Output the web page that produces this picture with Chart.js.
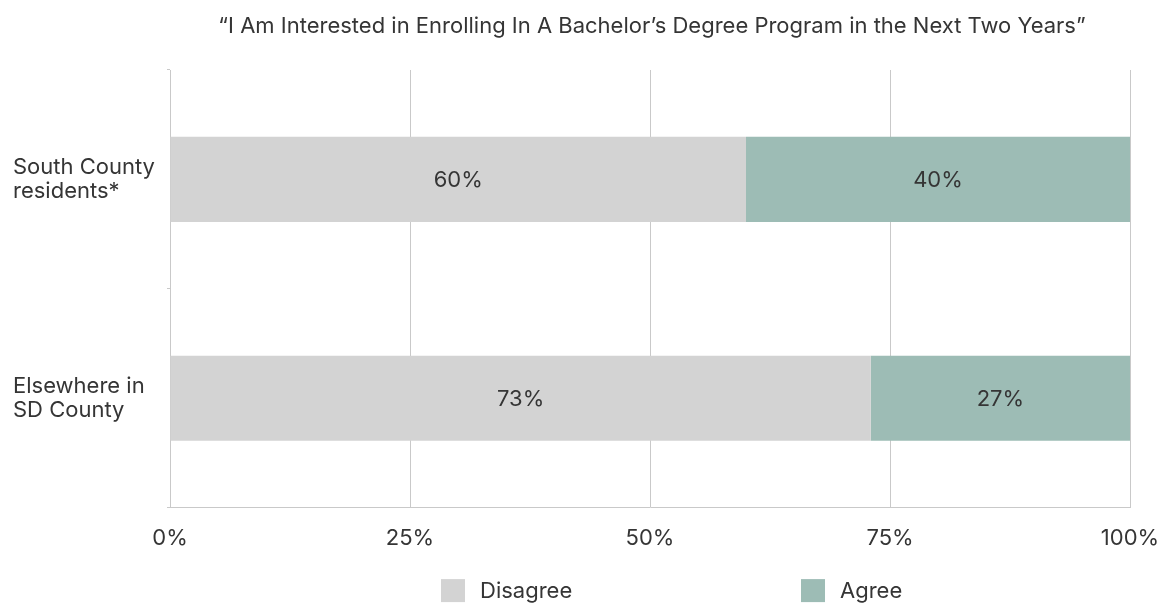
<!DOCTYPE html>
<html>
<head>
<meta charset="utf-8">
<script src="https://cdn.jsdelivr.net/npm/chart.js@4.4.1/dist/chart.umd.min.js"></script>
<style>
  html, body { margin: 0; padding: 0; background: #ffffff; }
  canvas { display: block; }
</style>
</head>
<body>
<canvas id="chart" width="1161" height="606"></canvas>
<script>
// Survey question shown as the chart heading
const titleText = '\u201CI Am Interested in Enrolling In A Bachelor\u2019s Degree Program in the Next Two Years\u201D';

// Respondent groups (two-line labels)
const categories = [['South County', 'residents*'], ['Elsewhere in', 'SD County']];

// Share of respondents per answer, in percent
const disagreeValues = [60, 73];
const agreeValues = [40, 27];

// Answer names and their colours
const seriesNames = ['Disagree', 'Agree'];
const seriesColors = ['#d3d3d3', '#9dbcb5'];

// Percentage axis
const xTickValues = [0, 25, 50, 75, 100];

const FONT = 'Inter, "DejaVu Sans", sans-serif';
const TEXT_COLOR = '#353535';
const GRID_COLOR = '#c9c9c9';

// Heading centred over the plot area
const centeredTitle = {
  id: 'centeredTitle',
  afterDraw(chart) {
    const ctx = chart.ctx;
    const area = chart.chartArea;
    ctx.save();
    ctx.font = '400 22px ' + FONT;
    ctx.fillStyle = TEXT_COLOR;
    ctx.textAlign = 'center';
    ctx.textBaseline = 'alphabetic';
    ctx.fillText(titleText, (area.left + area.right) / 2 + 2, 33);
    ctx.restore();
  }
};

// Writes each segment's value in the middle of its bar
const valueLabels = {
  id: 'valueLabels',
  afterDatasetsDraw(chart) {
    const ctx = chart.ctx;
    ctx.save();
    ctx.font = '400 22px ' + FONT;
    ctx.fillStyle = TEXT_COLOR;
    ctx.textAlign = 'center';
    ctx.textBaseline = 'middle';
    chart.data.datasets.forEach((ds, di) => {
      const meta = chart.getDatasetMeta(di);
      meta.data.forEach((bar, i) => {
        const cx = (bar.x + bar.base) / 2;
        ctx.fillText(ds.data[i] + '%', cx, bar.y + 1);
      });
    });
    ctx.restore();
  }
};

// Legend row under the axis, entries spread across the plot width
const spacedLegend = {
  id: 'spacedLegend',
  afterDraw(chart) {
    const ctx = chart.ctx;
    const area = chart.chartArea;
    const box = 24, boxGap = 15;
    const starts = [0.2823, 0.6573]; // box positions as a fraction of the plot width
    const y = area.bottom + 83.5;
    ctx.save();
    ctx.font = '400 22px ' + FONT;
    ctx.textBaseline = 'middle';
    ctx.textAlign = 'left';
    chart.data.datasets.forEach((ds, i) => {
      const x = area.left + starts[i] * (area.right - area.left);
      ctx.fillStyle = ds.backgroundColor;
      ctx.fillRect(x, y - box / 2, box, box - 1);
      ctx.fillStyle = TEXT_COLOR;
      ctx.fillText(ds.label, x + box + boxGap, y);
    });
    ctx.restore();
  }
};

const chart = new Chart(document.getElementById('chart'), {
  type: 'bar',
  data: {
    labels: categories,
    datasets: [
      {
        label: seriesNames[0],
        data: disagreeValues,
        backgroundColor: seriesColors[0],
        borderWidth: 0,
        categoryPercentage: 1,
        barPercentage: 0.389
      },
      {
        label: seriesNames[1],
        data: agreeValues,
        backgroundColor: seriesColors[1],
        borderWidth: 0,
        categoryPercentage: 1,
        barPercentage: 0.389
      }
    ]
  },
  options: {
    indexAxis: 'y',
    responsive: false,
    animation: false,
    layout: { padding: { left: 13, right: 31, top: 70, bottom: 36 } },
    plugins: {
      legend: { display: false },
      tooltip: { enabled: false },
      title: { display: false }
    },
    scales: {
      x: {
        stacked: true,
        min: 0,
        max: 100,
        afterBuildTicks(scale) {
          scale.ticks = xTickValues.map(v => ({ value: v }));
        },
        afterFit(scale) {
          scale.paddingLeft = 0;
          scale.paddingRight = 0;
        },
        border: { display: true, color: GRID_COLOR, width: 1 },
        grid: { color: GRID_COLOR, lineWidth: 1, drawTicks: false },
        ticks: {
          color: TEXT_COLOR,
          font: { family: FONT, size: 22, lineHeight: 1.2 },
          padding: 18,
          maxRotation: 0,
          callback: v => v + '%'
        }
      },
      y: {
        stacked: true,
        afterFit(scale) {
          scale.width = 157;
          scale.paddingTop = 0;
          scale.paddingBottom = 0;
        },
        border: { display: true, color: GRID_COLOR, width: 1 },
        grid: { display: true, drawOnChartArea: false, color: GRID_COLOR, tickLength: 3, offset: true },
        ticks: {
          color: TEXT_COLOR,
          crossAlign: 'far',
          font: { family: FONT, size: 22, lineHeight: 1.09 },
          padding: 10
        }
      }
    }
  },
  plugins: [valueLabels, centeredTitle, spacedLegend]
});
</script>
</body>
</html>
